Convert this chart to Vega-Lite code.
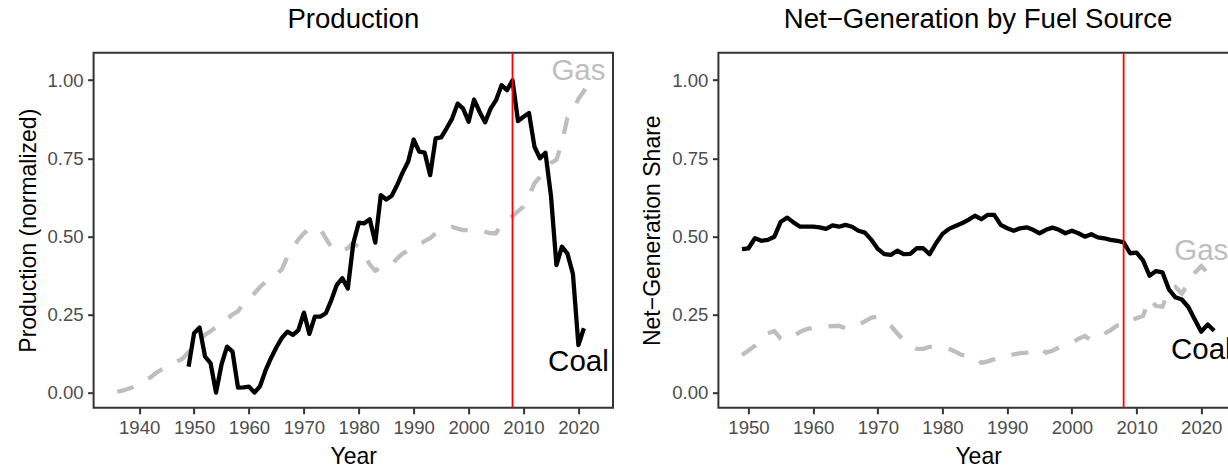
{
  "$schema": "https://vega.github.io/schema/vega-lite/v6.json",
  "autosize": {"type": "none"},
  "padding": {"left": 93.6, "top": 52.7, "right": 1134.4, "bottom": 412.3},
  "background": "white",
  "spacing": 104.8,
  "bounds": "flush",
  "config": {
    "font": "Liberation Sans",
    "view": {"stroke": "#333333", "strokeWidth": 2},
    "axis": {
      "domain": false,
      "grid": false,
      "tickColor": "#333333",
      "tickWidth": 2,
      "tickSize": 6,
      "labelColor": "#4D4D4D",
      "labelFontSize": 18.6,
      "labelPadding": 4.5,
      "labelFlush": false,
      "labelOverlap": false,
      "labelBound": false,
      "titleFontSize": 23,
      "titleFontWeight": "normal",
      "titleColor": "black"
    },
    "title": {"fontSize": 27.6, "fontWeight": "normal", "color": "black", "anchor": "middle", "baseline": "alphabetic", "offset": 18}
  },
  "datasets": {
    "prod": [
      {"year": 1949, "fuel": "Coal", "value": 0.083}, {"year": 1950, "fuel": "Coal", "value": 0.19}, {"year": 1951, "fuel": "Coal", "value": 0.208},
      {"year": 1952, "fuel": "Coal", "value": 0.115}, {"year": 1953, "fuel": "Coal", "value": 0.094}, {"year": 1954, "fuel": "Coal", "value": 0.0},
      {"year": 1955, "fuel": "Coal", "value": 0.09}, {"year": 1956, "fuel": "Coal", "value": 0.147}, {"year": 1957, "fuel": "Coal", "value": 0.131},
      {"year": 1958, "fuel": "Coal", "value": 0.016}, {"year": 1959, "fuel": "Coal", "value": 0.017}, {"year": 1960, "fuel": "Coal", "value": 0.019},
      {"year": 1961, "fuel": "Coal", "value": 0.0}, {"year": 1962, "fuel": "Coal", "value": 0.02}, {"year": 1963, "fuel": "Coal", "value": 0.07},
      {"year": 1964, "fuel": "Coal", "value": 0.11}, {"year": 1965, "fuel": "Coal", "value": 0.145}, {"year": 1966, "fuel": "Coal", "value": 0.175},
      {"year": 1967, "fuel": "Coal", "value": 0.195}, {"year": 1968, "fuel": "Coal", "value": 0.185}, {"year": 1969, "fuel": "Coal", "value": 0.2},
      {"year": 1970, "fuel": "Coal", "value": 0.256}, {"year": 1971, "fuel": "Coal", "value": 0.188}, {"year": 1972, "fuel": "Coal", "value": 0.243},
      {"year": 1973, "fuel": "Coal", "value": 0.243}, {"year": 1974, "fuel": "Coal", "value": 0.254}, {"year": 1975, "fuel": "Coal", "value": 0.296},
      {"year": 1976, "fuel": "Coal", "value": 0.345}, {"year": 1977, "fuel": "Coal", "value": 0.366}, {"year": 1978, "fuel": "Coal", "value": 0.333},
      {"year": 1979, "fuel": "Coal", "value": 0.478}, {"year": 1980, "fuel": "Coal", "value": 0.544}, {"year": 1981, "fuel": "Coal", "value": 0.542},
      {"year": 1982, "fuel": "Coal", "value": 0.555}, {"year": 1983, "fuel": "Coal", "value": 0.48}, {"year": 1984, "fuel": "Coal", "value": 0.632},
      {"year": 1985, "fuel": "Coal", "value": 0.618}, {"year": 1986, "fuel": "Coal", "value": 0.63}, {"year": 1987, "fuel": "Coal", "value": 0.665},
      {"year": 1988, "fuel": "Coal", "value": 0.705}, {"year": 1989, "fuel": "Coal", "value": 0.74}, {"year": 1990, "fuel": "Coal", "value": 0.81},
      {"year": 1991, "fuel": "Coal", "value": 0.771}, {"year": 1992, "fuel": "Coal", "value": 0.768}, {"year": 1993, "fuel": "Coal", "value": 0.696},
      {"year": 1994, "fuel": "Coal", "value": 0.814}, {"year": 1995, "fuel": "Coal", "value": 0.817}, {"year": 1996, "fuel": "Coal", "value": 0.846},
      {"year": 1997, "fuel": "Coal", "value": 0.877}, {"year": 1998, "fuel": "Coal", "value": 0.925}, {"year": 1999, "fuel": "Coal", "value": 0.909},
      {"year": 2000, "fuel": "Coal", "value": 0.867}, {"year": 2001, "fuel": "Coal", "value": 0.938}, {"year": 2002, "fuel": "Coal", "value": 0.899},
      {"year": 2003, "fuel": "Coal", "value": 0.865}, {"year": 2004, "fuel": "Coal", "value": 0.909}, {"year": 2005, "fuel": "Coal", "value": 0.936},
      {"year": 2006, "fuel": "Coal", "value": 0.984}, {"year": 2007, "fuel": "Coal", "value": 0.968}, {"year": 2008, "fuel": "Coal", "value": 1.0},
      {"year": 2009, "fuel": "Coal", "value": 0.869}, {"year": 2010, "fuel": "Coal", "value": 0.883}, {"year": 2011, "fuel": "Coal", "value": 0.895},
      {"year": 2012, "fuel": "Coal", "value": 0.787}, {"year": 2013, "fuel": "Coal", "value": 0.75}, {"year": 2014, "fuel": "Coal", "value": 0.768},
      {"year": 2015, "fuel": "Coal", "value": 0.63}, {"year": 2016, "fuel": "Coal", "value": 0.408}, {"year": 2017, "fuel": "Coal", "value": 0.467},
      {"year": 2018, "fuel": "Coal", "value": 0.445}, {"year": 2019, "fuel": "Coal", "value": 0.38}, {"year": 2020, "fuel": "Coal", "value": 0.152},
      {"year": 2021, "fuel": "Coal", "value": 0.206},
      {"year": 1936, "fuel": "Gas", "value": 0.003}, {"year": 1937, "fuel": "Gas", "value": 0.006}, {"year": 1938, "fuel": "Gas", "value": 0.012},
      {"year": 1939, "fuel": "Gas", "value": 0.018}, {"year": 1940, "fuel": "Gas", "value": 0.028}, {"year": 1941, "fuel": "Gas", "value": 0.04},
      {"year": 1942, "fuel": "Gas", "value": 0.048}, {"year": 1943, "fuel": "Gas", "value": 0.062}, {"year": 1944, "fuel": "Gas", "value": 0.073},
      {"year": 1945, "fuel": "Gas", "value": 0.083}, {"year": 1946, "fuel": "Gas", "value": 0.088}, {"year": 1947, "fuel": "Gas", "value": 0.1},
      {"year": 1948, "fuel": "Gas", "value": 0.11}, {"year": 1949, "fuel": "Gas", "value": 0.13}, {"year": 1950, "fuel": "Gas", "value": 0.15},
      {"year": 1951, "fuel": "Gas", "value": 0.168}, {"year": 1952, "fuel": "Gas", "value": 0.185}, {"year": 1953, "fuel": "Gas", "value": 0.196},
      {"year": 1954, "fuel": "Gas", "value": 0.21}, {"year": 1955, "fuel": "Gas", "value": 0.225}, {"year": 1956, "fuel": "Gas", "value": 0.235},
      {"year": 1957, "fuel": "Gas", "value": 0.25}, {"year": 1958, "fuel": "Gas", "value": 0.26}, {"year": 1959, "fuel": "Gas", "value": 0.285},
      {"year": 1960, "fuel": "Gas", "value": 0.3}, {"year": 1961, "fuel": "Gas", "value": 0.318}, {"year": 1962, "fuel": "Gas", "value": 0.338},
      {"year": 1963, "fuel": "Gas", "value": 0.354}, {"year": 1964, "fuel": "Gas", "value": 0.368}, {"year": 1965, "fuel": "Gas", "value": 0.378},
      {"year": 1966, "fuel": "Gas", "value": 0.395}, {"year": 1967, "fuel": "Gas", "value": 0.435}, {"year": 1968, "fuel": "Gas", "value": 0.465},
      {"year": 1969, "fuel": "Gas", "value": 0.49}, {"year": 1970, "fuel": "Gas", "value": 0.51}, {"year": 1971, "fuel": "Gas", "value": 0.525},
      {"year": 1972, "fuel": "Gas", "value": 0.526}, {"year": 1973, "fuel": "Gas", "value": 0.523}, {"year": 1974, "fuel": "Gas", "value": 0.494},
      {"year": 1975, "fuel": "Gas", "value": 0.465}, {"year": 1976, "fuel": "Gas", "value": 0.451}, {"year": 1977, "fuel": "Gas", "value": 0.455},
      {"year": 1978, "fuel": "Gas", "value": 0.462}, {"year": 1979, "fuel": "Gas", "value": 0.48}, {"year": 1980, "fuel": "Gas", "value": 0.465},
      {"year": 1981, "fuel": "Gas", "value": 0.44}, {"year": 1982, "fuel": "Gas", "value": 0.41}, {"year": 1983, "fuel": "Gas", "value": 0.39},
      {"year": 1984, "fuel": "Gas", "value": 0.4}, {"year": 1985, "fuel": "Gas", "value": 0.402}, {"year": 1986, "fuel": "Gas", "value": 0.41},
      {"year": 1987, "fuel": "Gas", "value": 0.43}, {"year": 1988, "fuel": "Gas", "value": 0.445}, {"year": 1989, "fuel": "Gas", "value": 0.455},
      {"year": 1990, "fuel": "Gas", "value": 0.465}, {"year": 1991, "fuel": "Gas", "value": 0.472}, {"year": 1992, "fuel": "Gas", "value": 0.485},
      {"year": 1993, "fuel": "Gas", "value": 0.494}, {"year": 1994, "fuel": "Gas", "value": 0.51}, {"year": 1995, "fuel": "Gas", "value": 0.518},
      {"year": 1996, "fuel": "Gas", "value": 0.525}, {"year": 1997, "fuel": "Gas", "value": 0.53}, {"year": 1998, "fuel": "Gas", "value": 0.525},
      {"year": 1999, "fuel": "Gas", "value": 0.52}, {"year": 2000, "fuel": "Gas", "value": 0.52}, {"year": 2001, "fuel": "Gas", "value": 0.52},
      {"year": 2002, "fuel": "Gas", "value": 0.522}, {"year": 2003, "fuel": "Gas", "value": 0.515}, {"year": 2004, "fuel": "Gas", "value": 0.51},
      {"year": 2005, "fuel": "Gas", "value": 0.51}, {"year": 2006, "fuel": "Gas", "value": 0.54}, {"year": 2007, "fuel": "Gas", "value": 0.553},
      {"year": 2008, "fuel": "Gas", "value": 0.565}, {"year": 2009, "fuel": "Gas", "value": 0.58}, {"year": 2010, "fuel": "Gas", "value": 0.595},
      {"year": 2011, "fuel": "Gas", "value": 0.63}, {"year": 2012, "fuel": "Gas", "value": 0.67}, {"year": 2013, "fuel": "Gas", "value": 0.69},
      {"year": 2014, "fuel": "Gas", "value": 0.715}, {"year": 2015, "fuel": "Gas", "value": 0.735}, {"year": 2016, "fuel": "Gas", "value": 0.745},
      {"year": 2017, "fuel": "Gas", "value": 0.8}, {"year": 2018, "fuel": "Gas", "value": 0.88}, {"year": 2019, "fuel": "Gas", "value": 0.9},
      {"year": 2020, "fuel": "Gas", "value": 0.94}, {"year": 2021, "fuel": "Gas", "value": 0.965}, {"year": 2022, "fuel": "Gas", "value": 1.0}
    ],
    "prodLabels": [
      {"year": 2020, "fuel": "Gas", "value": 1.03, "label": "Gas"},
      {"year": 2020, "fuel": "Coal", "value": 0.097, "label": "Coal"}
    ],
    "netgen": [
      {"year": 1949, "fuel": "Coal", "value": 0.459}, {"year": 1950, "fuel": "Coal", "value": 0.462}, {"year": 1951, "fuel": "Coal", "value": 0.494},
      {"year": 1952, "fuel": "Coal", "value": 0.486}, {"year": 1953, "fuel": "Coal", "value": 0.489}, {"year": 1954, "fuel": "Coal", "value": 0.499},
      {"year": 1955, "fuel": "Coal", "value": 0.547}, {"year": 1956, "fuel": "Coal", "value": 0.56}, {"year": 1957, "fuel": "Coal", "value": 0.544},
      {"year": 1958, "fuel": "Coal", "value": 0.531}, {"year": 1959, "fuel": "Coal", "value": 0.531}, {"year": 1960, "fuel": "Coal", "value": 0.531},
      {"year": 1961, "fuel": "Coal", "value": 0.529}, {"year": 1962, "fuel": "Coal", "value": 0.524}, {"year": 1963, "fuel": "Coal", "value": 0.535},
      {"year": 1964, "fuel": "Coal", "value": 0.531}, {"year": 1965, "fuel": "Coal", "value": 0.537}, {"year": 1966, "fuel": "Coal", "value": 0.531},
      {"year": 1967, "fuel": "Coal", "value": 0.518}, {"year": 1968, "fuel": "Coal", "value": 0.512}, {"year": 1969, "fuel": "Coal", "value": 0.489},
      {"year": 1970, "fuel": "Coal", "value": 0.46}, {"year": 1971, "fuel": "Coal", "value": 0.443}, {"year": 1972, "fuel": "Coal", "value": 0.441},
      {"year": 1973, "fuel": "Coal", "value": 0.454}, {"year": 1974, "fuel": "Coal", "value": 0.443}, {"year": 1975, "fuel": "Coal", "value": 0.444},
      {"year": 1976, "fuel": "Coal", "value": 0.462}, {"year": 1977, "fuel": "Coal", "value": 0.462}, {"year": 1978, "fuel": "Coal", "value": 0.443},
      {"year": 1979, "fuel": "Coal", "value": 0.478}, {"year": 1980, "fuel": "Coal", "value": 0.508}, {"year": 1981, "fuel": "Coal", "value": 0.524},
      {"year": 1982, "fuel": "Coal", "value": 0.533}, {"year": 1983, "fuel": "Coal", "value": 0.542}, {"year": 1984, "fuel": "Coal", "value": 0.553},
      {"year": 1985, "fuel": "Coal", "value": 0.566}, {"year": 1986, "fuel": "Coal", "value": 0.555}, {"year": 1987, "fuel": "Coal", "value": 0.569},
      {"year": 1988, "fuel": "Coal", "value": 0.569}, {"year": 1989, "fuel": "Coal", "value": 0.537}, {"year": 1990, "fuel": "Coal", "value": 0.526},
      {"year": 1991, "fuel": "Coal", "value": 0.518}, {"year": 1992, "fuel": "Coal", "value": 0.526}, {"year": 1993, "fuel": "Coal", "value": 0.529},
      {"year": 1994, "fuel": "Coal", "value": 0.521}, {"year": 1995, "fuel": "Coal", "value": 0.51}, {"year": 1996, "fuel": "Coal", "value": 0.521},
      {"year": 1997, "fuel": "Coal", "value": 0.528}, {"year": 1998, "fuel": "Coal", "value": 0.521}, {"year": 1999, "fuel": "Coal", "value": 0.51},
      {"year": 2000, "fuel": "Coal", "value": 0.518}, {"year": 2001, "fuel": "Coal", "value": 0.51}, {"year": 2002, "fuel": "Coal", "value": 0.499},
      {"year": 2003, "fuel": "Coal", "value": 0.507}, {"year": 2004, "fuel": "Coal", "value": 0.497}, {"year": 2005, "fuel": "Coal", "value": 0.494},
      {"year": 2006, "fuel": "Coal", "value": 0.489}, {"year": 2007, "fuel": "Coal", "value": 0.486}, {"year": 2008, "fuel": "Coal", "value": 0.481},
      {"year": 2009, "fuel": "Coal", "value": 0.446}, {"year": 2010, "fuel": "Coal", "value": 0.448}, {"year": 2011, "fuel": "Coal", "value": 0.423},
      {"year": 2012, "fuel": "Coal", "value": 0.374}, {"year": 2013, "fuel": "Coal", "value": 0.389}, {"year": 2014, "fuel": "Coal", "value": 0.385},
      {"year": 2015, "fuel": "Coal", "value": 0.33}, {"year": 2016, "fuel": "Coal", "value": 0.305}, {"year": 2017, "fuel": "Coal", "value": 0.298},
      {"year": 2018, "fuel": "Coal", "value": 0.274}, {"year": 2019, "fuel": "Coal", "value": 0.234}, {"year": 2020, "fuel": "Coal", "value": 0.195},
      {"year": 2021, "fuel": "Coal", "value": 0.218}, {"year": 2022, "fuel": "Coal", "value": 0.198},
      {"year": 1949, "fuel": "Gas", "value": 0.12}, {"year": 1950, "fuel": "Gas", "value": 0.135}, {"year": 1951, "fuel": "Gas", "value": 0.15},
      {"year": 1952, "fuel": "Gas", "value": 0.17}, {"year": 1953, "fuel": "Gas", "value": 0.19}, {"year": 1954, "fuel": "Gas", "value": 0.197},
      {"year": 1955, "fuel": "Gas", "value": 0.172}, {"year": 1956, "fuel": "Gas", "value": 0.168}, {"year": 1957, "fuel": "Gas", "value": 0.18},
      {"year": 1958, "fuel": "Gas", "value": 0.195}, {"year": 1959, "fuel": "Gas", "value": 0.203}, {"year": 1960, "fuel": "Gas", "value": 0.207},
      {"year": 1961, "fuel": "Gas", "value": 0.211}, {"year": 1962, "fuel": "Gas", "value": 0.212}, {"year": 1963, "fuel": "Gas", "value": 0.213},
      {"year": 1964, "fuel": "Gas", "value": 0.214}, {"year": 1965, "fuel": "Gas", "value": 0.205}, {"year": 1966, "fuel": "Gas", "value": 0.215},
      {"year": 1967, "fuel": "Gas", "value": 0.217}, {"year": 1968, "fuel": "Gas", "value": 0.228}, {"year": 1969, "fuel": "Gas", "value": 0.24},
      {"year": 1970, "fuel": "Gas", "value": 0.243}, {"year": 1971, "fuel": "Gas", "value": 0.23}, {"year": 1972, "fuel": "Gas", "value": 0.214},
      {"year": 1973, "fuel": "Gas", "value": 0.19}, {"year": 1974, "fuel": "Gas", "value": 0.167}, {"year": 1975, "fuel": "Gas", "value": 0.15},
      {"year": 1976, "fuel": "Gas", "value": 0.14}, {"year": 1977, "fuel": "Gas", "value": 0.14}, {"year": 1978, "fuel": "Gas", "value": 0.146},
      {"year": 1979, "fuel": "Gas", "value": 0.146}, {"year": 1980, "fuel": "Gas", "value": 0.143}, {"year": 1981, "fuel": "Gas", "value": 0.14},
      {"year": 1982, "fuel": "Gas", "value": 0.131}, {"year": 1983, "fuel": "Gas", "value": 0.12}, {"year": 1984, "fuel": "Gas", "value": 0.119},
      {"year": 1985, "fuel": "Gas", "value": 0.115}, {"year": 1986, "fuel": "Gas", "value": 0.095}, {"year": 1987, "fuel": "Gas", "value": 0.1},
      {"year": 1988, "fuel": "Gas", "value": 0.107}, {"year": 1989, "fuel": "Gas", "value": 0.115}, {"year": 1990, "fuel": "Gas", "value": 0.12},
      {"year": 1991, "fuel": "Gas", "value": 0.122}, {"year": 1992, "fuel": "Gas", "value": 0.126}, {"year": 1993, "fuel": "Gas", "value": 0.128},
      {"year": 1994, "fuel": "Gas", "value": 0.135}, {"year": 1995, "fuel": "Gas", "value": 0.143}, {"year": 1996, "fuel": "Gas", "value": 0.128},
      {"year": 1997, "fuel": "Gas", "value": 0.134}, {"year": 1998, "fuel": "Gas", "value": 0.145}, {"year": 1999, "fuel": "Gas", "value": 0.152},
      {"year": 2000, "fuel": "Gas", "value": 0.16}, {"year": 2001, "fuel": "Gas", "value": 0.172}, {"year": 2002, "fuel": "Gas", "value": 0.181},
      {"year": 2003, "fuel": "Gas", "value": 0.167}, {"year": 2004, "fuel": "Gas", "value": 0.178}, {"year": 2005, "fuel": "Gas", "value": 0.188},
      {"year": 2006, "fuel": "Gas", "value": 0.2}, {"year": 2007, "fuel": "Gas", "value": 0.215}, {"year": 2008, "fuel": "Gas", "value": 0.213},
      {"year": 2009, "fuel": "Gas", "value": 0.232}, {"year": 2010, "fuel": "Gas", "value": 0.238}, {"year": 2011, "fuel": "Gas", "value": 0.246},
      {"year": 2012, "fuel": "Gas", "value": 0.3}, {"year": 2013, "fuel": "Gas", "value": 0.277}, {"year": 2014, "fuel": "Gas", "value": 0.275},
      {"year": 2015, "fuel": "Gas", "value": 0.327}, {"year": 2016, "fuel": "Gas", "value": 0.338}, {"year": 2017, "fuel": "Gas", "value": 0.317},
      {"year": 2018, "fuel": "Gas", "value": 0.35}, {"year": 2019, "fuel": "Gas", "value": 0.383}, {"year": 2020, "fuel": "Gas", "value": 0.405},
      {"year": 2021, "fuel": "Gas", "value": 0.383}, {"year": 2022, "fuel": "Gas", "value": 0.398}
    ],
    "netgenLabels": [
      {"year": 2020, "fuel": "Gas", "value": 0.454, "label": "Gas"},
      {"year": 2020, "fuel": "Coal", "value": 0.137, "label": "Coal"}
    ],
    "events": [
      {"year": 2008}
    ]
  },
  "hconcat": [
    {
      "width": 519.4,
      "height": 355.1,
      "title": {"text": "Production"},
      "layer": [
        {
          "data": {"name": "prod"},
          "transform": [{"filter": "datum.fuel === 'Gas'"}],
          "mark": {"type": "line", "color": "#BEBEBE", "strokeWidth": 4.3, "strokeDash": [17, 17]},
          "encoding": {
            "x": {"field": "year", "type": "quantitative", "scale": {"domain": [1931.7, 2026.3], "nice": false, "zero": false},
                  "axis": {"values": [1940, 1950, 1960, 1970, 1980, 1990, 2000, 2010, 2020], "format": "d", "title": "Year", "titleX": 259.7, "titleY": 55.7, "titleBaseline": "alphabetic", "titleAlign": "center"}},
            "y": {"field": "value", "type": "quantitative", "scale": {"domain": [-0.0487, 1.088], "nice": false, "zero": false},
                  "axis": {"values": [0, 0.25, 0.5, 0.75, 1], "format": ".2f", "title": "Production (normalized)", "titleX": -58.6, "titleY": 177.5, "titleAngle": 270, "titleBaseline": "alphabetic", "titleAlign": "center"}}
          }
        },
        {
          "data": {"name": "prod"},
          "transform": [{"filter": "datum.fuel === 'Coal'"}],
          "mark": {"type": "line", "color": "black", "strokeWidth": 4.3, "strokeJoin": "round"},
          "encoding": {
            "x": {"field": "year", "type": "quantitative"},
            "y": {"field": "value", "type": "quantitative"}
          }
        },
        {
          "data": {"name": "prodLabels"},
          "mark": {"type": "text", "fontSize": 29.5, "align": "center", "baseline": "middle"},
          "encoding": {
            "x": {"field": "year", "type": "quantitative"},
            "y": {"field": "value", "type": "quantitative"},
            "text": {"field": "label"},
            "color": {"field": "fuel", "type": "nominal", "scale": {"domain": ["Coal", "Gas"], "range": ["black", "#BEBEBE"]}, "legend": null}
          }
        },
        {
          "data": {"name": "events"},
          "mark": {"type": "rule", "color": "red", "strokeWidth": 1.8},
          "encoding": {"x": {"field": "year", "type": "quantitative"}}
        }
      ]
    },
    {
      "width": 519.4,
      "height": 355.1,
      "title": {"text": "Net−Generation by Fuel Source"},
      "layer": [
        {
          "data": {"name": "netgen"},
          "transform": [{"filter": "datum.fuel === 'Gas'"}],
          "mark": {"type": "line", "color": "#BEBEBE", "strokeWidth": 4.3, "strokeDash": [17, 17]},
          "encoding": {
            "x": {"field": "year", "type": "quantitative", "scale": {"domain": [1945.35, 2025.65], "nice": false, "zero": false},
                  "axis": {"values": [1950, 1960, 1970, 1980, 1990, 2000, 2010, 2020], "format": "d", "title": "Year", "titleX": 259.7, "titleY": 55.7, "titleBaseline": "alphabetic", "titleAlign": "center"}},
            "y": {"field": "value", "type": "quantitative", "scale": {"domain": [-0.0487, 1.088], "nice": false, "zero": false},
                  "axis": {"values": [0, 0.25, 0.5, 0.75, 1], "format": ".2f", "title": "Net−Generation Share", "titleX": -58.6, "titleY": 177.5, "titleAngle": 270, "titleBaseline": "alphabetic", "titleAlign": "center"}}
          }
        },
        {
          "data": {"name": "netgen"},
          "transform": [{"filter": "datum.fuel === 'Coal'"}],
          "mark": {"type": "line", "color": "black", "strokeWidth": 4.3, "strokeJoin": "round"},
          "encoding": {
            "x": {"field": "year", "type": "quantitative"},
            "y": {"field": "value", "type": "quantitative"}
          }
        },
        {
          "data": {"name": "netgenLabels"},
          "mark": {"type": "text", "fontSize": 29.5, "align": "center", "baseline": "middle"},
          "encoding": {
            "x": {"field": "year", "type": "quantitative"},
            "y": {"field": "value", "type": "quantitative"},
            "text": {"field": "label"},
            "color": {"field": "fuel", "type": "nominal", "scale": {"domain": ["Coal", "Gas"], "range": ["black", "#BEBEBE"]}, "legend": null}
          }
        },
        {
          "data": {"name": "events"},
          "mark": {"type": "rule", "color": "red", "strokeWidth": 1.8},
          "encoding": {"x": {"field": "year", "type": "quantitative"}}
        }
      ]
    }
  ]
}
